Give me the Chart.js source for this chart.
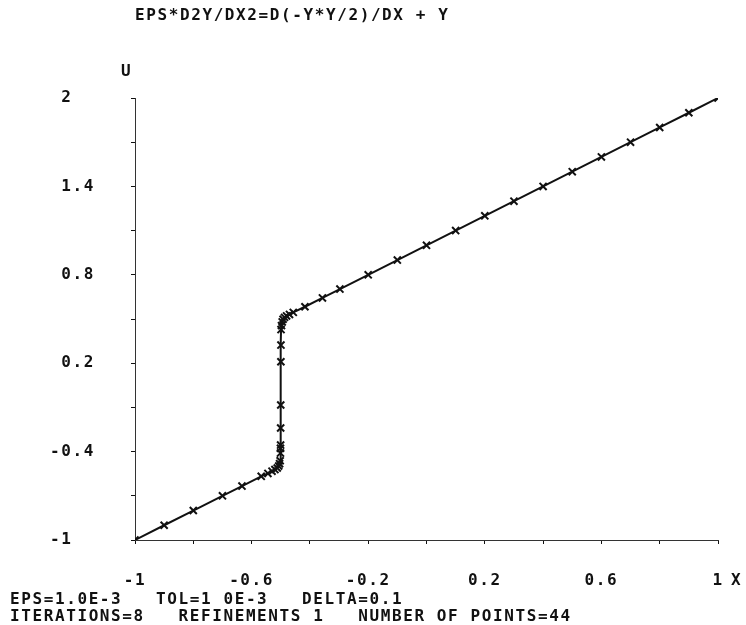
<!DOCTYPE html>
<html>
<head>
<meta charset="utf-8">
<script src="https://cdn.jsdelivr.net/npm/chart.js@4/dist/chart.umd.min.js"></script>
<style>
  html, body { margin: 0; padding: 0; background: #fff; }
</style>
</head>
<body>
<canvas id="myChart" width="746" height="625"></canvas>
<script>
// solution points (x, u)
const xValues = [
  -1, -0.9, -0.8, -0.7, -0.633, -0.567, -0.544, -0.53, -0.52, -0.512,
  -0.507, -0.504, -0.502, -0.501, -0.501, -0.5005, -0.5003, -0.5, -0.4995, -0.4993,
  -0.499, -0.4975, -0.495, -0.492, -0.487, -0.48, -0.47, -0.457, -0.417, -0.357,
  -0.297, -0.2, -0.1, 0, 0.1, 0.2, 0.3, 0.4, 0.5, 0.6,
  0.7, 0.8, 0.9, 1,
];
const uValues = [
  -1, -0.9, -0.8, -0.7, -0.634, -0.568, -0.548, -0.533, -0.522, -0.511,
  -0.498, -0.482, -0.462, -0.41, -0.378, -0.356, -0.24, -0.084, 0.21, 0.323,
  0.428, 0.455, 0.48, 0.498, 0.511, 0.521, 0.531, 0.545, 0.583, 0.643,
  0.703, 0.8, 0.9, 1, 1.1, 1.2, 1.3, 1.4, 1.5, 1.6,
  1.7, 1.8, 1.9, 2,
];

const xRange = [-1, 1];
const uRange = [-1, 2];
const xStep = 0.2;
const uStep = 0.3;

const titleText = "EPS*D2Y/DX2=D(-Y*Y/2)/DX + Y";
const footerLines = [
  "EPS=1.0E-3   TOL=1 0E-3   DELTA=0.1",
  "ITERATIONS=8   REFINEMENTS 1   NUMBER OF POINTS=44",
];

const INK = "#111";
const FONT_FAMILY = "'DejaVu Sans Mono', 'Liberation Mono', monospace";
const FONT_SIZE = 16;
const SPACING = "1.6px";

function fmt(v) {
  return String(Number(v.toFixed(1)));
}

const plotText = {
  id: "plotText",
  beforeDraw(chart) {
    chart.ctx.letterSpacing = SPACING;
  },
  afterDraw(chart) {
    const ctx = chart.ctx;
    const area = chart.chartArea;
    ctx.save();
    ctx.letterSpacing = SPACING;
    ctx.font = `bold ${FONT_SIZE}px ${FONT_FAMILY}`;
    ctx.fillStyle = INK;
    ctx.textBaseline = "middle";
    ctx.textAlign = "left";
    ctx.fillText(titleText, 135, 16);
    ctx.fillText("U", area.left - 14, area.top - 26);
    ctx.fillText("X", area.right + 13, area.bottom + 41);
    ctx.fillText(footerLines[0], 10, 600);
    ctx.fillText(footerLines[1], 10, 617);
    ctx.restore();
  },
};

const points = xValues.map((x, i) => ({ x: x, y: uValues[i] }));

new Chart("myChart", {
  type: "scatter",
  data: {
    datasets: [
      {
        data: points,
        showLine: true,
        borderColor: INK,
        borderWidth: 2,
        pointStyle: "crossRot",
        pointRadius: 5,
        pointBorderWidth: 2,
        pointBorderColor: INK,
        tension: 0,
      },
    ],
  },
  options: {
    responsive: false,
    animation: false,
    layout: { padding: { left: 50, top: 98, right: 28, bottom: 0 } },
    plugins: {
      legend: { display: false },
      tooltip: { enabled: false },
    },
    scales: {
      x: {
        type: "linear",
        min: xRange[0],
        max: xRange[1],
        afterFit: (scale) => {
          scale.height = 85;
          // tick padding is only meant to push labels down, not sideways
          scale.paddingLeft = 0;
          scale.paddingRight = 0;
        },
        border: { display: true, color: "#333", width: 1 },
        grid: { drawOnChartArea: false, tickLength: 4, color: INK },
        ticks: {
          stepSize: xStep,
          autoSkip: false,
          maxRotation: 0,
          padding: 27,
          color: INK,
          font: { family: FONT_FAMILY, size: FONT_SIZE, weight: "bold" },
          callback: (v, i) => (i % 2 === 0 ? fmt(v) : ""),
        },
      },
      y: {
        type: "linear",
        min: uRange[0],
        max: uRange[1],
        afterFit: (scale) => { scale.width = 85; },
        border: { display: true, color: "#333", width: 1 },
        grid: { drawOnChartArea: false, tickLength: 4, color: INK },
        ticks: {
          stepSize: uStep,
          autoSkip: false,
          crossAlign: "far",
          color: INK,
          font: { family: FONT_FAMILY, size: FONT_SIZE, weight: "bold" },
          callback: (v, i) => {
            if (i % 2 !== 0) return "";
            const s = fmt(v);
            return v < 0 ? s : " " + s;
          },
        },
      },
    },
  },
  plugins: [plotText],
});
</script>
</body>
</html>
